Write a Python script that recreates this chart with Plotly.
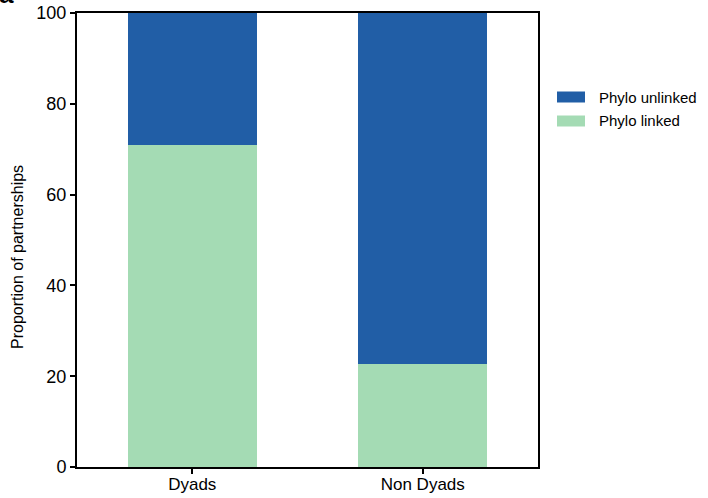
import plotly.graph_objects as go

# Proportion of partnerships (%) that are phylogenetically linked vs unlinked
categories = ["Dyads", "Non Dyads"]
phylo_linked = [70.9, 22.6]
phylo_unlinked = [100 - v for v in phylo_linked]
series_names = ["Phylo unlinked", "Phylo linked"]
y_ticks = [0, 20, 40, 60, 80, 100]

BLUE = "#215EA6"
GREEN = "#A4DBB4"
FONT = "Liberation Sans, Arial, Helvetica, sans-serif"

W, H = 708, 498
ML, MR, MT, MB = 77, 170, 13, 31
PW, PH = W - ML - MR, H - MT - MB


def px_x(px):
    return (px - ML) / PW


def px_y(py):
    return (H - MB - py) / PH


fig = go.Figure()
fig.add_trace(go.Bar(x=categories, y=phylo_linked, name=series_names[1],
                     marker=dict(color=GREEN, line=dict(width=0)), showlegend=False))
fig.add_trace(go.Bar(x=categories, y=phylo_unlinked, name=series_names[0],
                     marker=dict(color=BLUE, line=dict(width=0)), showlegend=False))

# Legend drawn as wide swatches with labels to the right of the plot
shapes = []
annotations = []
for name, color, cy in [(series_names[0], BLUE, 97), (series_names[1], GREEN, 121)]:
    shapes.append(dict(type="rect", xref="paper", yref="paper",
                       x0=px_x(557), x1=px_x(585), y0=px_y(cy + 5.5), y1=px_y(cy - 5.5),
                       fillcolor=color, line=dict(width=0)))
    annotations.append(dict(text=name, xref="paper", yref="paper", x=px_x(597), y=px_y(cy),
                            xanchor="left", yanchor="middle", showarrow=False,
                            font=dict(size=15, color="black", family=FONT)))

# Y-axis title
annotations.append(dict(text="Proportion of partnerships", xref="paper", yref="paper",
                        x=px_x(17), y=px_y(257), textangle=-90, xanchor="center",
                        yanchor="middle", showarrow=False,
                        font=dict(size=16, color="black", family=FONT)))

# Panel letter
annotations.append(dict(text="<b>a</b>", xref="paper", yref="paper", x=px_x(-3), y=px_y(11),
                        xanchor="left", yanchor="bottom", showarrow=False,
                        font=dict(size=26, color="black", family=FONT)))

axis_common = dict(showline=True, linecolor="black", linewidth=2, mirror=True,
                   ticks="outside", ticklen=5, tickwidth=2, tickcolor="black",
                   showgrid=False, zeroline=False, automargin=False)

fig.update_layout(
    width=W, height=H,
    margin=dict(l=ML, r=MR, t=MT, b=MB, autoexpand=False),
    barmode="stack", bargap=0.44,
    plot_bgcolor="white", paper_bgcolor="white",
    font=dict(family=FONT, size=16, color="black"),
    shapes=shapes, annotations=annotations,
    showlegend=False,
    xaxis=dict(range=[-0.5, 1.5], ticklabelstandoff=-4,
               tickfont=dict(size=17, family=FONT, color="black"), **axis_common),
    yaxis=dict(range=[0, 100], tickvals=y_ticks,
               tickfont=dict(size=18, family=FONT, color="black"), **axis_common),
)

fig.write_html("out.html")
